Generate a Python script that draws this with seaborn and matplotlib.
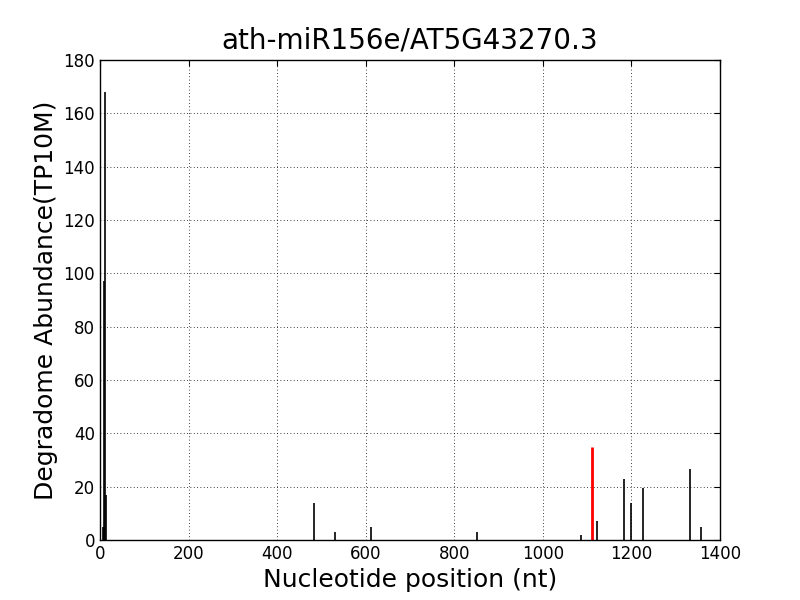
import numpy as np
import matplotlib
matplotlib.use("Agg")
import matplotlib.pyplot as plt
import seaborn as sns

title = "ath-miR156e/AT5G43270.3"
positions = [6, 8, 9, 11, 13, 484, 531, 613, 852, 1085, 1123, 1184, 1199, 1227, 1332, 1356]
abundance = [5, 5, 97, 168, 17, 14, 3, 5, 3, 2, 7, 23, 14, 19.5, 26.5, 5]
target_pos = [1110]
target_abund = [35]

sns.set_style("white", {"axes.edgecolor": "black", "xtick.direction": "in", "ytick.direction": "in",
                        "text.color": "black", "axes.labelcolor": "black"})
plt.rcParams['font.family'] = ['DejaVu Sans']

fig = plt.figure(figsize=(8, 6), dpi=100)
ax = fig.add_axes([0.125, 0.1, 0.775, 0.8])
ax.vlines(positions, 0, abundance, colors="black", linewidth=1.2)
ax.vlines(target_pos, 0, target_abund, colors="red", linewidth=2)

ax.set_xlim(0, 1400)
ax.set_ylim(0, 180)
ax.set_xticks(np.arange(0, 1401, 200))
ax.set_yticks(np.arange(0, 181, 20))
ax.grid(True, linestyle=(0, (1, 3)), color="black", linewidth=0.6)
ax.tick_params(direction="in", length=4, labelsize=12, top=True, right=True, colors="black")
for s in ax.spines.values():
    s.set_color("black")
    s.set_linewidth(1)
ax.set_title(title, fontsize=20, color="black", pad=8)
ax.set_xlabel("Nucleotide position (nt)", fontsize=18, color="black")
ax.set_ylabel("Degradome Abundance(TP10M)", fontsize=18, color="black")
fig.savefig("out.png", dpi=100)
